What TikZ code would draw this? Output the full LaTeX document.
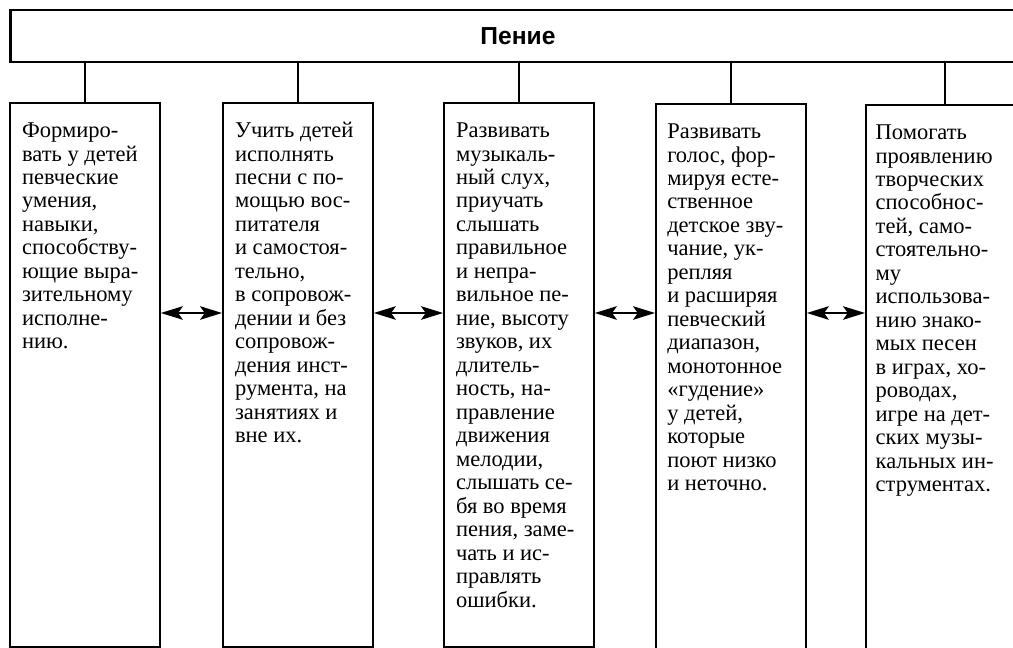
\documentclass[tikz,border=0pt]{standalone}
\usepackage{fontspec}
\setmainfont{Liberation Serif}
\newfontfamily\headfont{Liberation Sans}
\usetikzlibrary{arrows.meta,positioning}
\tikzset{
  area/.style={draw, line width=1.3pt, minimum width=3.75cm, minimum height=13.6cm,
    anchor=north west, inner sep=0pt},
  aim/.style={align=left, inner sep=0pt, font=\fontsize{16}{16.7}\selectfont},
  link/.style={line width=1pt},
  both/.style={line width=1pt, >={Stealth[length=0.55cm,width=0.34cm,inset=0.12cm]}, <->}
}

\begin{document}
\begin{tikzpicture}[x=0.025cm,y=-0.025cm]
  \useasboundingbox (0,0) rectangle (1013,648);
  \clip (0,0) rectangle (1013,648);
  % title
  \node[draw, line width=2pt, minimum width=25.35cm, minimum height=1.3cm,
    font=\headfont\bfseries\fontsize{17.5}{19}\selectfont] (song) at (518,36) {Пение};
  % boxes
  \node[area] (b1) at (9,102) {};
  \node[area] (b2) at (222,102) {};
  \node[area] (b3) at (443,102) {};
  \node[area, minimum height=13.8cm] (b4) at (655,103) {};
  \node[area, minimum width=3.95cm, minimum height=13.8cm] (b5) at (865,104) {};
  % texts
  \node[aim, below right=0.47cm and 0.32cm of b1.north west] (t1)
    {\strut Формиро-\\вать у детей\\певческие\\умения,\\навыки,\\способству-\\ющие выра-\\зительному\\исполне-\\нию.};
  \node[aim, below right=0.47cm and 0.32cm of b2.north west] (t2)
    {\strut Учить детей\\исполнять\\песни с по-\\мощью вос-\\питателя\\и самостоя-\\тельно,\\в сопровож-\\дении и без\\сопровож-\\дения инст-\\румента, на\\занятиях и\\вне их.};
  \node[aim, below right=0.47cm and 0.32cm of b3.north west] (t3)
    {\strut Развивать\\музыкаль-\\ный слух,\\приучать\\слышать\\правильное\\и непра-\\вильное пе-\\ние, высоту\\звуков, их\\длитель-\\ность, на-\\правление\\движения\\мелодии,\\слышать се-\\бя во время\\пения, заме-\\чать и ис-\\правлять\\ошибки.};
  \node[aim, below right=0.47cm and 0.3cm of b4.north west] (t4)
    {\strut Развивать\\голос, фор-\\мируя есте-\\ственное\\детское зву-\\чание, ук-\\репляя\\и расширяя\\певческий\\диапазон,\\монотонное\\«гудение»\\у детей,\\которые\\поют низко\\и неточно.};
  \node[aim, below right=0.47cm and 0.26cm of b5.north west] (t5)
    {\strut Помогать\\проявлению\\творческих\\способнос-\\тей, само-\\стоятельно-\\му\\использова-\\нию знако-\\мых песен\\в играх, хо-\\роводах,\\игре на дет-\\ских музы-\\кальных ин-\\струментах.};
  % links
  \draw[link] (song.south -| b1.north) -- (b1.north);
  \draw[link] (song.south -| b2.north) -- (b2.north);
  \draw[link] (song.south -| b3.north) -- (b3.north);
  \draw[link] (song.south -| b4.north) -- (b4.north);
  \draw[link] (song.south -| b5.north) -- (b5.north);
  % arrows
  \coordinate (mid) at (0,313);
  \draw[both] (b1.east |- mid) -- (b2.west |- mid);
  \draw[both] (b2.east |- mid) -- (b3.west |- mid);
  \draw[both] (b3.east |- mid) -- (b4.west |- mid);
  \draw[both] (b4.east |- mid) -- (b5.west |- mid);
\end{tikzpicture}
\end{document}
